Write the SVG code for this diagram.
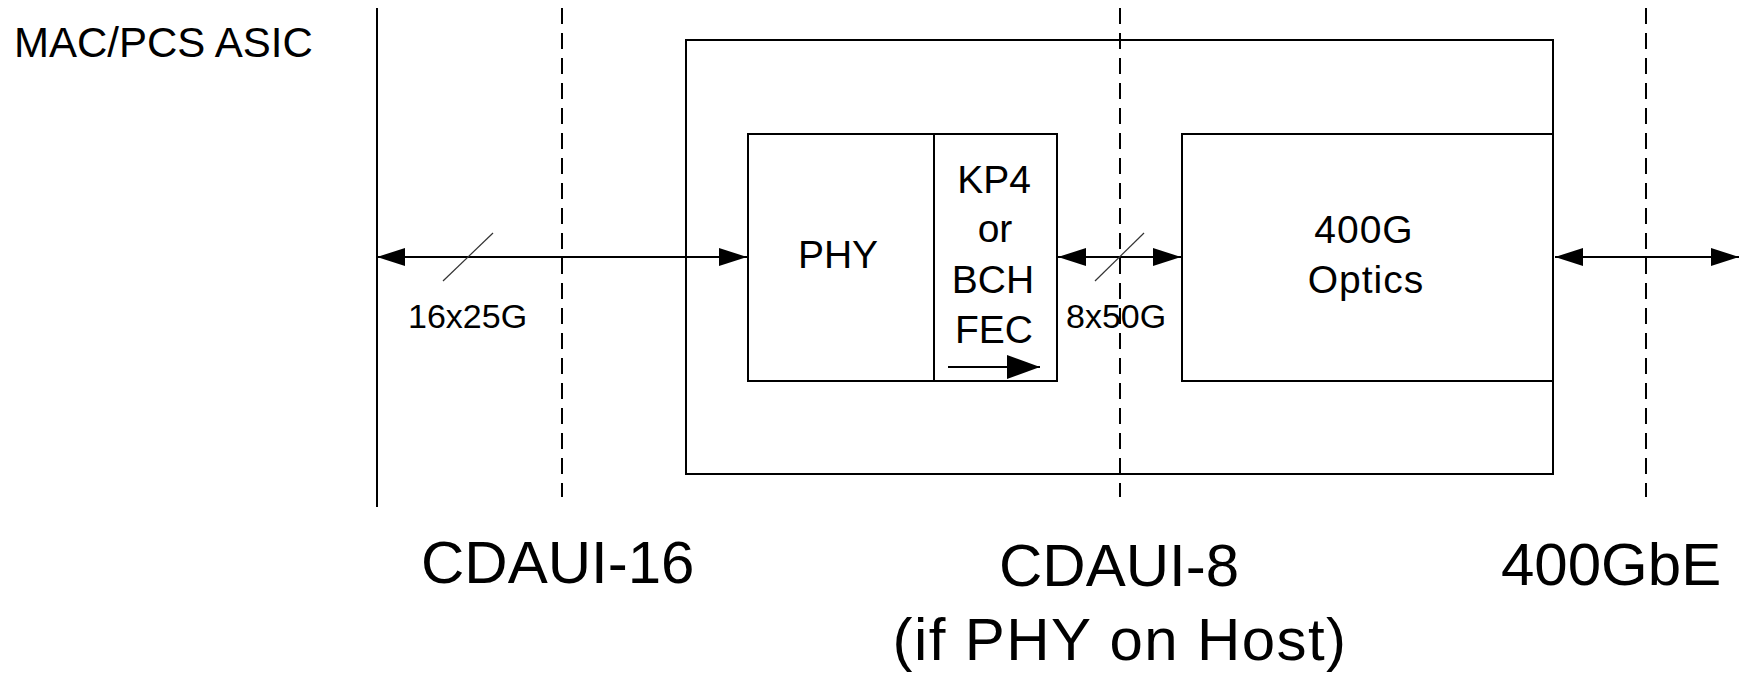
<svg xmlns="http://www.w3.org/2000/svg" width="1749" height="673" viewBox="0 0 1749 673">
<style>
text{font-family:"Liberation Sans",Arial,sans-serif;fill:#000}
.box{fill:none;stroke:#000;stroke-width:2}
.wire{stroke:#000;stroke-width:2;fill:none}
.dash{stroke:#000;stroke-width:2;stroke-dasharray:16 9;fill:none}
.slash{stroke:#333;stroke-width:1.2}
.big{font-size:60px}
.mid{font-size:39px}
.sm{font-size:34px}
</style>
<defs>
<marker id="ah" viewBox="0 0 28 18" refX="28" refY="9" markerWidth="28" markerHeight="18" markerUnits="userSpaceOnUse" orient="auto-start-reverse">
<path d="M0,0 L28,9 L0,18 z" fill="#000"/>
</marker>
<marker id="ahb" viewBox="0 0 33 24" refX="33" refY="12" markerWidth="33" markerHeight="24" markerUnits="userSpaceOnUse" orient="auto">
<path d="M0,0 L33,12 L0,24 z" fill="#000"/>
</marker>
</defs>
<g id="boundaries">
<line class="wire" x1="377" y1="8" x2="377" y2="507"/>
<line class="dash" x1="562" y1="8" x2="562" y2="497"/>
<line class="dash" x1="1120" y1="8" x2="1120" y2="497"/>
<line class="dash" x1="1646" y1="8" x2="1646" y2="497"/>
</g>
<g id="module">
<rect class="box" x="686" y="40" width="867" height="434"/>
</g>
<g id="phy">
<rect class="box" x="748" y="134" width="186" height="247"/>
<text class="mid" x="838" y="268" text-anchor="middle">PHY</text>
</g>
<g id="fec">
<rect class="box" x="934" y="134" width="123" height="247"/>
<text class="mid" x="994" y="193" text-anchor="middle">KP4</text>
<text class="mid" x="995" y="242" text-anchor="middle">or</text>
<text class="mid" x="993" y="293" text-anchor="middle">BCH</text>
<text class="mid" x="994" y="343" text-anchor="middle">FEC</text>
<line class="wire" x1="948" y1="367" x2="1040" y2="367" marker-end="url(#ahb)"/>
</g>
<g id="optics">
<rect class="box" x="1182" y="134" width="371" height="247"/>
<text class="mid" x="1364" y="243" text-anchor="middle" letter-spacing="1">400G</text>
<text class="mid" x="1366" y="293" text-anchor="middle" letter-spacing="1">Optics</text>
</g>
<g id="connectors">
<line class="wire" x1="377" y1="257" x2="747" y2="257" marker-start="url(#ah)" marker-end="url(#ah)"/>
<line class="slash" x1="443" y1="281" x2="493" y2="233"/>
<line class="wire" x1="1058" y1="257" x2="1181" y2="257" marker-start="url(#ah)" marker-end="url(#ah)"/>
<line class="slash" x1="1095" y1="281" x2="1144" y2="233"/>
<line class="wire" x1="1555" y1="257" x2="1739" y2="257" marker-start="url(#ah)" marker-end="url(#ah)"/>
</g>
<g id="labels">
<text x="14" y="57" font-size="42">MAC/PCS ASIC</text>
<text class="sm" x="408" y="328">16x25G</text>
<text class="sm" x="1066" y="328">8x50G</text>
<text class="big" x="421" y="583">CDAUI-16</text>
<text class="big" x="1119" y="586" text-anchor="middle">CDAUI-8</text>
<text class="big" x="1120" y="660" text-anchor="middle" letter-spacing="1.4">(if PHY on Host)</text>
<text class="big" x="1501" y="585">400GbE</text>
</g>
</svg>
